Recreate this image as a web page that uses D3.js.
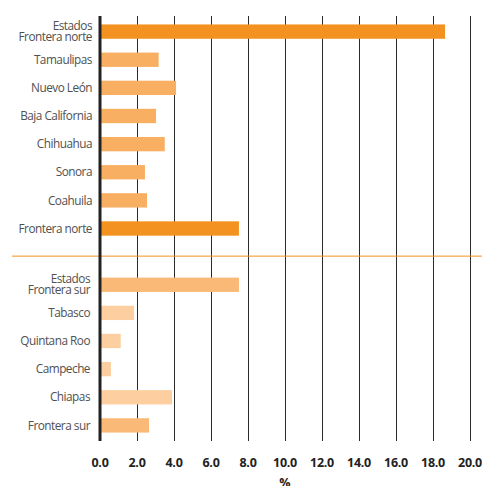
<!DOCTYPE html>
<html>
<head>
<meta charset="utf-8">
<script src="https://cdn.jsdelivr.net/npm/d3@7"></script>
<style>
  body { margin: 0; background: #fff; }
  svg { display: block; }
</style>
</head>
<body>
<svg width="482" height="486"></svg>
<script>
// категории (пустая строка - разрыв между группами)
const categories = [
    "Estados|Frontera norte", "Tamaulipas", "Nuevo León", "Baja California",
    "Chihuahua", "Sonora", "Coahuila", "Frontera norte",
    "",
    "Estados|Frontera sur", "Tabasco", "Quintana Roo", "Campeche", "Chiapas", "Frontera sur"
];
const values = [18.65, 3.17, 4.11, 3.03, 3.50, 2.43, 2.54, 7.51,
                null,
                7.51, 1.84, 1.12, 0.59, 3.89, 2.65];
// тип столбца: total / state
const barKind = ["nTotal", "nState", "nState", "nState", "nState", "nState", "nState", "nTotal",
                 null,
                 "sTotal", "sState", "sState", "sState", "sState", "sTotal"];
const ticks = [0, 2, 4, 6, 8, 10, 12, 14, 16, 18, 20];

const colors = {nTotal: "#F39220", nState: "#F9AF62", sTotal: "#FBB977", sState: "#FDCFA0"};

const svg = d3.select("svg");
const attr_area = {left: 100, right: 470, top: 16, bottom: 441};

const scX = d3.scaleLinear().domain([0, 20]).range([attr_area.left, attr_area.right]);
const scY = d3.scaleBand()
    .domain(categories.map((d, i) => i))
    .range([attr_area.top, attr_area.bottom])
    .paddingInner(0.49)
    .paddingOuter(0.3);

// вертикальная сетка
svg.append("g")
    .selectAll("line")
    .data(ticks.filter(t => t > 0))
    .enter()
    .append("line")
    .attr("x1", d => Math.round(scX(d)) + 0.5)
    .attr("x2", d => Math.round(scX(d)) + 0.5)
    .attr("y1", attr_area.top)
    .attr("y2", attr_area.bottom)
    .style("stroke", "#2a2a2a")
    .style("stroke-width", 1);

// разделитель групп
const gapY = scY(8) + scY.bandwidth() / 2;
svg.append("line")
    .attr("x1", 12).attr("x2", 482)
    .attr("y1", gapY - 0.5).attr("y2", gapY - 0.5)
    .style("stroke", "#F39220")
    .style("stroke-width", 1);

// столбцы
const rows = categories.map((c, i) => ({label: c, value: values[i], kind: barKind[i], idx: i}))
    .filter(d => d.value !== null);

svg.append("g")
    .selectAll("rect")
    .data(rows)
    .enter()
    .append("rect")
    .attr("x", scX(0))
    .attr("y", d => scY(d.idx))
    .attr("width", d => scX(d.value) - scX(0))
    .attr("height", scY.bandwidth())
    .style("fill", d => colors[d.kind]);

// ось 0
svg.append("line")
    .attr("x1", scX(0)).attr("x2", scX(0))
    .attr("y1", attr_area.top).attr("y2", attr_area.bottom)
    .style("stroke", "#222")
    .style("stroke-width", 3);

// подписи категорий
const labels = svg.append("g")
    .style("font-family", "'Open Sans', sans-serif")
    .style("font-size", "11.8px")
    .style("fill", "#505050")
    .attr("text-anchor", "end");

rows.forEach(d => {
    const lines = d.label.split("|");
    const cy = scY(d.idx) + scY.bandwidth() / 2;
    const x = d.idx < 8 ? 92 : 90;
    const lh = 11;
    lines.forEach((ln, k) => {
        labels.append("text")
            .attr("x", x)
            .attr("y", cy + (k - (lines.length - 1) / 2) * lh)
            .attr("dy", "0.35em")
            .attr("letter-spacing", "-0.5")
            .text(ln);
    });
});

// подписи оси X
svg.append("g")
    .selectAll("text")
    .data(ticks)
    .enter()
    .append("text")
    .attr("x", d => scX(d))
    .attr("y", 467)
    .attr("text-anchor", "middle")
    .style("font-family", "'Open Sans', sans-serif")
    .style("font-weight", "bold")
    .style("font-size", "12.5px")
    .attr("letter-spacing", "-0.3")
    .style("fill", "#222")
    .text(d => d.toFixed(1));

svg.append("text")
    .attr("x", scX(10))
    .attr("y", 487)
    .attr("text-anchor", "middle")
    .style("font-family", "'Open Sans', sans-serif")
    .style("font-weight", "bold")
    .style("font-size", "12.5px")
    .style("fill", "#222")
    .text("%");
</script>
</body>
</html>
